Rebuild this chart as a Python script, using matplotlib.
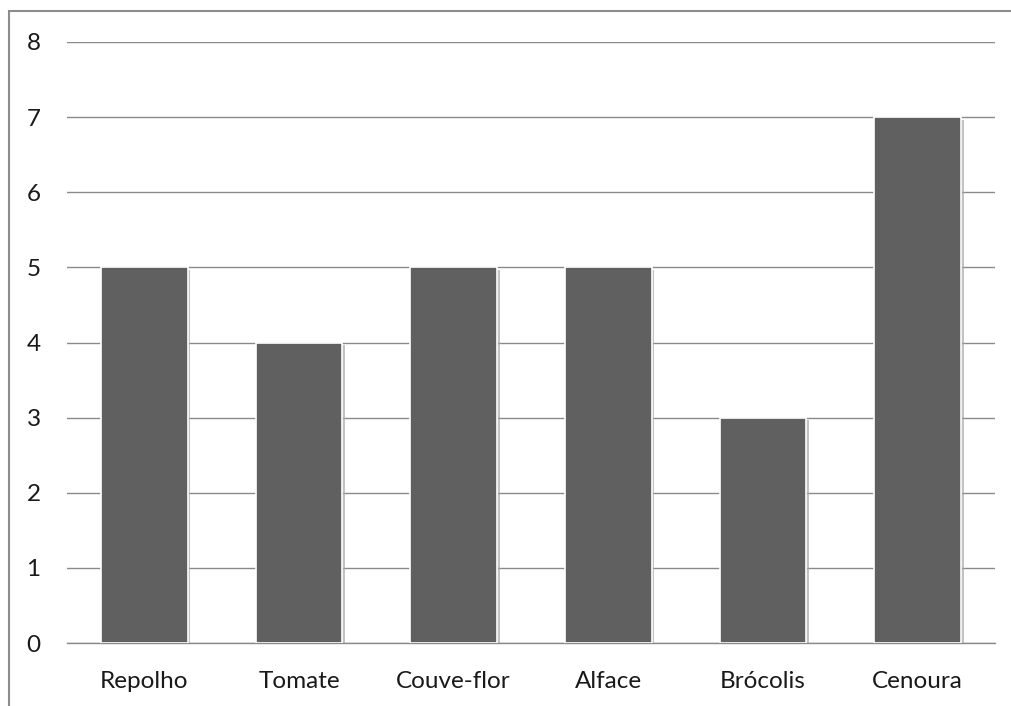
import matplotlib
matplotlib.use('Agg')
from matplotlib import pyplot as plt
from matplotlib import patheffects as pe
from matplotlib.patches import Rectangle

categories = ['Repolho', 'Tomate', 'Couve-flor', 'Alface', 'Brócolis', 'Cenoura']
values = [5, 4, 5, 5, 3, 7]
yticks = [0, 1, 2, 3, 4, 5, 6, 7, 8]

plt.rcParams['font.family'] = ['Lato', 'DejaVu Sans']

W, H = 1011, 706
fig = plt.figure(figsize=(W / 100, H / 100), dpi=100)

# outer chart border (only left and top visible in the crop)
fig.patches.append(Rectangle((9 / W, -0.1), 2.0, (H - 11) / H + 0.1, transform=fig.transFigure,
                             fill=False, edgecolor='#8c8c8c', linewidth=1.5))

ax = fig.add_axes([67 / W, (H - 643) / H, (995 - 67) / W, (643 - 42) / H])
x = range(len(categories))
bars = ax.bar(x, values, width=0.56, color='#606060', edgecolor='white', linewidth=1.2, zorder=3)
for b in bars:
    b.set_path_effects([pe.SimplePatchShadow(offset=(2, -2), shadow_rgbFace='#a8a8a8', alpha=0.7), pe.Normal()])

ax.set_xlim(-0.5, len(categories) - 0.5)
ax.set_ylim(0, 8)
ax.set_yticks(yticks)
ax.set_xticks(list(x))
ax.set_xticklabels(categories)
ax.grid(axis='y', color='#8a8a8a', linewidth=1.0, zorder=0)
ax.set_axisbelow(True)
for s in ['top', 'right', 'left']:
    ax.spines[s].set_visible(False)
ax.spines['bottom'].set_color('#8a8a8a')
ax.spines['bottom'].set_linewidth(1.0)
ax.tick_params(axis='both', length=0, labelsize=17.5, colors='#1a1a1a')
ax.tick_params(axis='y', pad=19)
ax.tick_params(axis='x', pad=20)

fig.savefig('out.png', dpi=100)
